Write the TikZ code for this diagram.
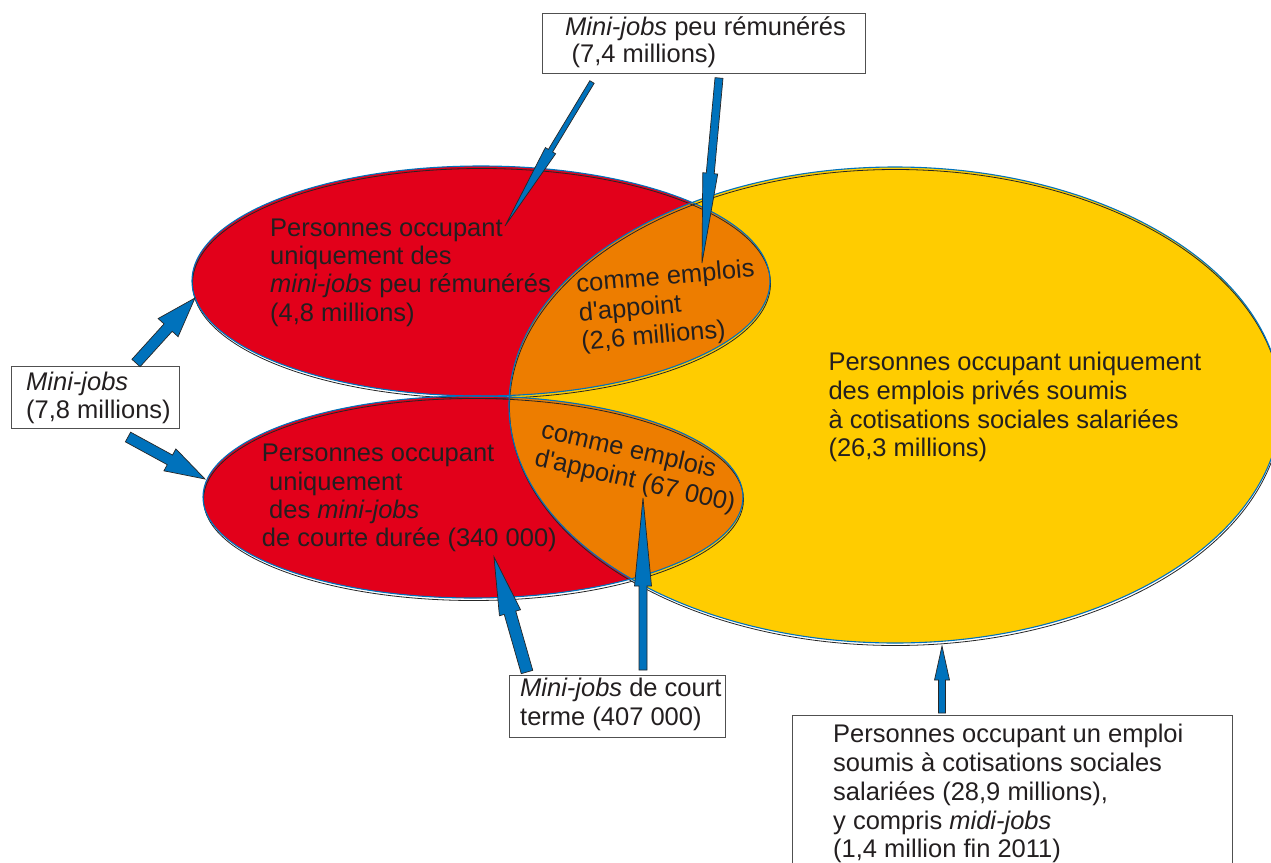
\documentclass[tikz,border=0pt]{standalone}
\usepackage{fontspec}
\setmainfont{Liberation Sans}[Ligatures=TeXOff]
\usetikzlibrary{calc}
\definecolor{redE}{RGB}{226,0,26}
\definecolor{orangeE}{RGB}{237,125,0}
\definecolor{yellowE}{RGB}{255,204,0}
\definecolor{blueA}{RGB}{0,114,188}
\definecolor{txtc}{RGB}{35,31,32}
\definecolor{boxgray}{RGB}{80,80,80}
\tikzset{
 lbl/.style={font=\fontsize{25.5}{29}\selectfont, text=txtc, inner sep=0pt, anchor=base west},
 rlbl/.style={font=\fontsize{25.5}{29}\selectfont, text=txtc, inner sep=0pt, anchor=north west, align=left},
 box/.style={draw=boxgray, line width=1.2pt, fill=white, inner sep=0pt, anchor=north west},
 outl/.style={draw=blueA, line width=1.1pt},
 shad/.style={draw=black!85, line width=0.8pt},
 barrowstyle/.style={fill=blueA, draw=black!85, line width=0.7pt, line join=miter},
}
\newcommand\blockarr[5]{%
  \coordinate (hb) at ($(#2)!#5!(#1)$);
  \filldraw[barrowstyle] ($(#1)!#3!90:(#2)$) -- ($(hb)!#3!90:(#2)$) -- ($(hb)!#4!90:(#2)$) -- (#2) -- ($(hb)!#4!-90:(#2)$) -- ($(hb)!#3!-90:(#2)$) -- ($(#1)!#3!-90:(#2)$) -- cycle;
}
\begin{document}
\begin{tikzpicture}[x=1pt,y=-1pt]
\useasboundingbox (0,0) rectangle (1271,862);
\clip (0,0) rectangle (1271,862);
\fill[white] (0,0) rectangle (1271,862);
% ellipses
\def\yel{(895,405) ellipse [x radius=386pt, y radius=238pt]}
\def\rup{(481,281) ellipse [x radius=289pt, y radius=115pt]}
\def\rlo{(473,497) ellipse [x radius=270pt, y radius=101pt]}
\fill[yellowE] \yel;
\fill[redE] \rup;
\fill[redE] \rlo;
\begin{scope}
 \clip \yel;
 \fill[orangeE] \rup;
 \fill[orangeE] \rlo;
\end{scope}
\begin{scope}[shift={(0.5,2.5)}]
 \draw[shad] \yel; \draw[shad] \rup; \draw[shad] \rlo;
\end{scope}
\draw[outl] \yel; \draw[outl] \rup; \draw[outl] \rlo;

% boxes
\node[box, minimum width=323pt, minimum height=60pt] (topbox) at (542,13) {};
\node[box, minimum width=168pt, minimum height=62pt] (leftbox) at (11,366) {};
\node[box, minimum width=216pt, minimum height=62pt] (lowbox) at (509,675) {};
\node[box, minimum width=440pt, minimum height=200pt] (brbox) at (792,715) {};

% arrow ends
\coordinate (a1t) at (136,363); \coordinate (a1h) at (195,298);
\coordinate (a2t) at (128,437); \coordinate (a2h) at (205,479);
\coordinate (a3t) at (592,82);  \coordinate (a3h) at (505,226);
\coordinate (a4t) at (719,78);  \coordinate (a4h) at (702,263);
\coordinate (a5t) at (527,672); \coordinate (a5h) at (494,557);
\coordinate (a6t) at (643,670); \coordinate (a6h) at (643,498);
\coordinate (a7t) at (942,713); \coordinate (a7h) at (942,646);
\blockarr{a1t}{a1h}{5.5pt}{13.5pt}{40pt}
\blockarr{a2t}{a2h}{5.5pt}{12.5pt}{40pt}
\blockarr{a3t}{a3h}{2.5pt}{6pt}{88pt}
\blockarr{a4t}{a4h}{4pt}{7.5pt}{90pt}
\blockarr{a5t}{a5h}{6pt}{11pt}{58pt}
\blockarr{a6t}{a6h}{4pt}{8.5pt}{88pt}
\blockarr{a7t}{a7h}{3.5pt}{7.5pt}{34pt}

% texts in boxes
\node[lbl] (t1) at (565,35) {\textit{Mini-jobs} peu rémunérés};
\node[lbl] (t2) at (571.5,62.5) {(7,4 millions)};
\node[lbl] (l1) at (26,390) {\textit{Mini-jobs}};
\node[lbl] (l2) at (26,418) {(7,8 millions)};
\node[lbl] (w1) at (520,696.5) {\textit{Mini-jobs} de court};
\node[lbl] (w2) at (520,725) {terme (407 000)};
\node[lbl] (b1) at (833,742.5) {Personnes occupant un emploi};
\node[lbl] (b2) at (833,771.3) {soumis à cotisations sociales};
\node[lbl] (b3) at (833,800.2) {salariées (28,9 millions),};
\node[lbl] (b4) at (833,829) {y compris \textit{midi-jobs}};
\node[lbl] (b5) at (833,857.8) {(1,4 million fin 2011)};

% texts in ellipses
\node[lbl] (u1) at (270,236) {Personnes occupant};
\node[lbl] (u2) at (270,264.5) {uniquement des};
\node[lbl] (u3) at (270,292.5) {\textit{mini-jobs} peu rémunérés};
\node[lbl] (u4) at (270,321) {(4,8 millions)};
\node[lbl] (d1) at (261.7,461.7) {Personnes occupant};
\node[lbl] (d2) at (269,490) {uniquement};
\node[lbl] (d3) at (269,518) {des \textit{mini-jobs}};
\node[lbl] (d4) at (261.7,546.7) {de courte durée (340 000)};
\node[lbl] (y1) at (828.3,370) {Personnes occupant uniquement};
\node[lbl] (y2) at (828.3,399) {des emplois privés soumis};
\node[lbl] (y3) at (828.3,428) {à cotisations sociales salariées};
\node[lbl] (y4) at (828.3,456.5) {(26,3 millions)};
\node[rlbl, rotate=5] (o1) at (575.2,271.8) {\strut comme emplois\\d'appoint\\(2,6 millions)};
\node[rlbl, rotate=-13] (p1) at (544.6,417.2) {\strut comme emplois\\d'appoint (67 000)};
\end{tikzpicture}
\end{document}
